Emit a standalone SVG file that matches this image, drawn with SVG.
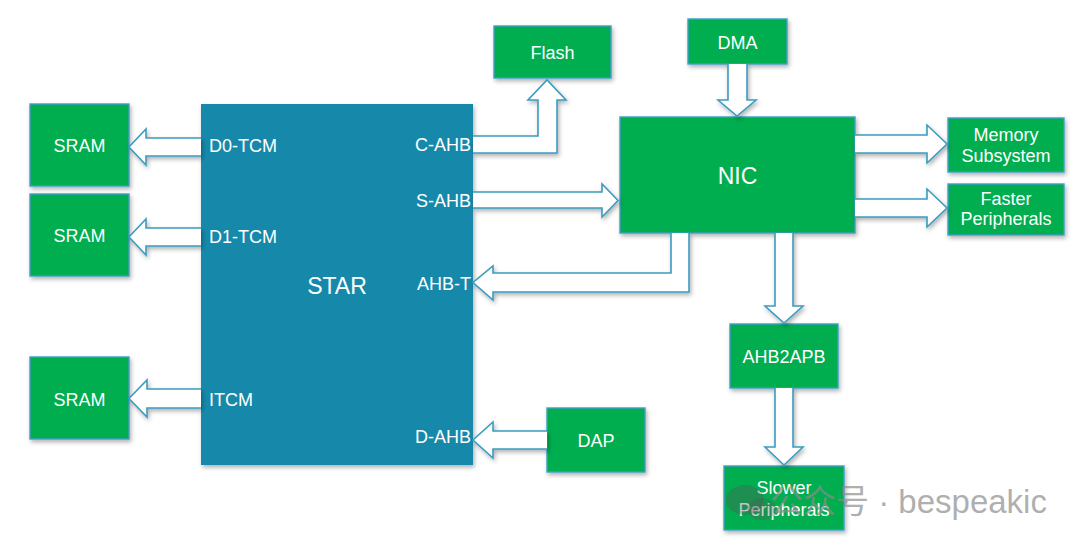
<svg xmlns="http://www.w3.org/2000/svg" width="1080" height="546" viewBox="0 0 1080 546">
<defs>
<filter id="sh" x="-10%" y="-10%" width="130%" height="130%">
<feDropShadow dx="1.5" dy="2.5" stdDeviation="2" flood-color="#000" flood-opacity="0.3"/>
</filter>
<style>
.g{fill:#00ad4f;stroke:#3f9fc6;stroke-width:1.4;filter:url(#sh)}
.s{fill:#1289ab;filter:url(#sh)}
.t{font-family:"Liberation Sans",Arial,sans-serif;fill:#fff;font-size:18px;text-anchor:middle}
.p{font-family:"Liberation Sans",Arial,sans-serif;fill:#fff;font-size:18px}
.b{font-size:23px}
.a{fill:#fff;stroke:#3a9cc0;stroke-width:1.6;stroke-linejoin:miter;filter:url(#sh)}
.w{font-family:"Liberation Sans","Noto Sans CJK SC",sans-serif;fill:#8c8c8c;fill-opacity:0.7;font-size:33px}
</style>
</defs>
<rect width="1080" height="546" fill="#fff"/>

<g id="star">
<rect class="s" x="201" y="104" width="272" height="361"/>
<text class="t b" x="337" y="294">STAR</text>
<text class="p" x="209" y="152">D0-TCM</text>
<text class="p" x="209" y="243">D1-TCM</text>
<text class="p" x="209" y="406">ITCM</text>
<text class="p" x="471" y="151" text-anchor="end">C-AHB</text>
<text class="p" x="471" y="207" text-anchor="end">S-AHB</text>
<text class="p" x="471" y="290" text-anchor="end">AHB-T</text>
<text class="p" x="471" y="443" text-anchor="end">D-AHB</text>
</g>

<g id="sram0"><rect class="g" x="30" y="104" width="99" height="82"/><text class="t" x="79.5" y="152">SRAM</text></g>
<g id="sram1"><rect class="g" x="30" y="194" width="99" height="82"/><text class="t" x="79.5" y="242">SRAM</text></g>
<g id="sram2"><rect class="g" x="30" y="357" width="99" height="82"/><text class="t" x="79.5" y="406">SRAM</text></g>
<g id="flash"><rect class="g" x="494" y="26" width="117" height="52"/><text class="t" x="552.5" y="59">Flash</text></g>
<g id="dma"><rect class="g" x="688" y="19" width="99" height="45"/><text class="t" x="737.5" y="49">DMA</text></g>
<g id="nic"><rect class="g" x="620" y="117" width="235" height="116"/><text class="t b" x="737.5" y="184">NIC</text></g>
<g id="memsub"><rect class="g" x="948" y="118" width="116" height="54"/><text class="t" x="1006" y="141">Memory</text><text class="t" x="1006" y="162">Subsystem</text></g>
<g id="fastper"><rect class="g" x="948" y="184" width="116" height="51"/><text class="t" x="1006" y="205">Faster</text><text class="t" x="1006" y="225">Peripherals</text></g>
<g id="ahb2apb"><rect class="g" x="730" y="324" width="108" height="64"/><text class="t" x="784" y="363">AHB2APB</text></g>
<g id="slowper"><rect class="g" x="724" y="466" width="120" height="64"/><text class="t" x="784" y="494">Slower</text><text class="t" x="784" y="516">Peripherals</text></g>
<g id="dap"><rect class="g" x="547" y="408" width="98" height="64"/><text class="t" x="596" y="447">DAP</text></g>

<g id="connectors">
<path class="a" d="M201,138 H146 V129 L129,147 L146,165 V156 H201"/>
<path class="a" d="M201,228 H146 V219 L129,237 L146,255 V246 H201"/>
<path class="a" d="M201,389 H147 V380 L129,398.5 L147,417 V408 H201"/>
<path class="a" d="M473,136 H538 V100 H528 L547,80 L566,100 H557 V153 H473"/>
<path class="a" d="M473,192 H602 V184 L618,200.5 L602,217 V208 H473"/>
<path class="a" d="M671,233 V273 H493 V266 L473,282.5 L493,300 V292 H689 V233"/>
<path class="a" d="M728,64 V100 H718 L737,116 L756,100 H747 V64"/>
<path class="a" d="M855,135 H927 V125 L947,144 L927,163 V153 H855"/>
<path class="a" d="M855,199 H927 V189 L947,208 L927,227 V217 H855"/>
<path class="a" d="M775,233 V306 H765 L784,323 L803,306 H793 V233"/>
<path class="a" d="M775,388 V447 H765 L784,465 L803,447 H793 V388"/>
<path class="a" d="M547,431 H493 V422 L473,440 L493,458 V449 H547"/>
</g>

<g id="watermark">
<ellipse cx="745" cy="500" rx="19" ry="15" fill="#555" fill-opacity="0.35"/>
<ellipse cx="762" cy="509" rx="14" ry="11" fill="#555" fill-opacity="0.3"/>
<text class="w" x="770" y="513">公众号 · bespeakic</text>
</g>
</svg>
